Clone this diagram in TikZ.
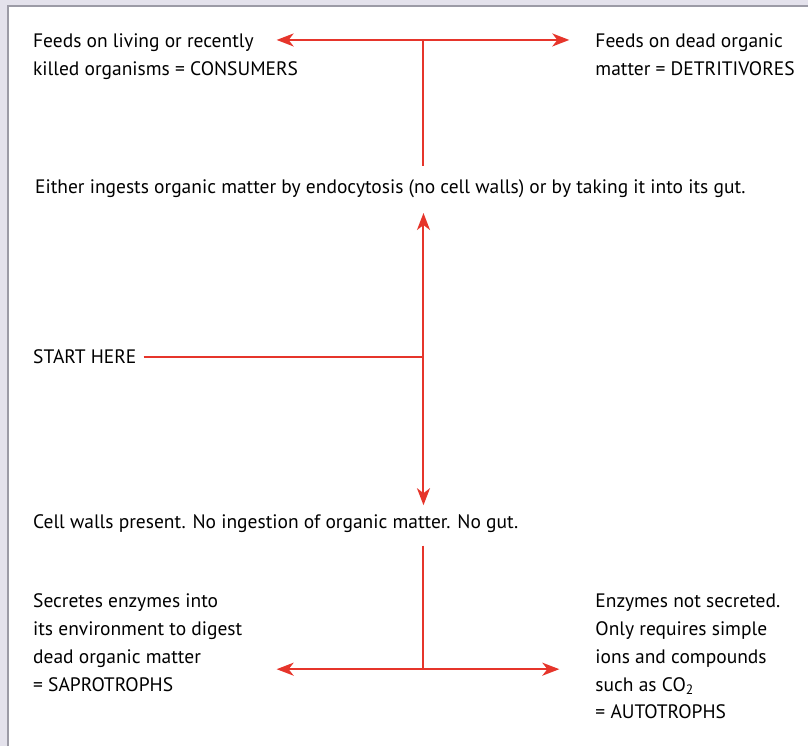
\documentclass[tikz,border=0pt]{standalone}
\usepackage{fontspec}
\setmainfont{PT Sans}
\usetikzlibrary{arrows.meta,positioning}
\definecolor{arrowred}{HTML}{E6352B}
\definecolor{framegray}{HTML}{9C9BA6}
\definecolor{bggray}{HTML}{E4E2EC}

\begin{document}
\begin{tikzpicture}[
    x=1pt, y=-1pt,
    txt/.style={inner sep=0pt, anchor=north west, align=left, font=\fontsize{19.5}{28}\selectfont},
    lin/.style={draw=arrowred, line width=2pt},
    arr/.style={lin, -{Stealth[length=17pt, width=13pt, inset=5pt]}}
]
% frame
\fill[bggray] (0,0) rectangle (809,747);
\fill[white] (8,6) rectangle (809,747);
\draw[framegray, line width=2pt] (8,747) -- (8,6) -- (809,6);
\useasboundingbox (0,0) rectangle (809,747);

% texts
\node[txt] (consumers) at (33,34) {Feeds on living or recently\\killed organisms = CONSUMERS};
\node[txt] (detritivores) at (596,34) {Feeds on dead organic\\matter = DETRITIVORES};
\node[txt, anchor=west] (ingest) at (35,189) {Either ingests organic matter by endocytosis (no cell walls) or by taking it into its gut.};
\node[txt, anchor=west] (start) at (33,357) {START HERE};
\node[txt, anchor=west] (walls) at (33,524) {Cell walls present. No ingestion of organic matter. No gut.};
\node[txt] (saprotrophs) at (33,594) {Secretes enzymes into\\its environment to digest\\dead organic matter\\= SAPROTROPHS};
\node[txt] (autotrophs) at (596,594) {Enzymes not secreted.\\Only requires simple\\ions and compounds\\such as CO\textsubscript{2}\\= AUTOTROPHS};

% junctions
\coordinate (jtop) at (424,40);
\coordinate (jmid) at (424,357);
\coordinate (jbot) at (424,670);
\coordinate (tl) at (277,40);
\coordinate (tr) at (570,40);
\coordinate (bl) at (277,670);
\coordinate (br) at (560,670);

% connectors
\draw[lin] ([yshift=14pt]ingest.north -| jtop) -- (jtop);
\draw[arr] (jtop) -- (tl);
\draw[arr] (jtop) -- (tr);
\draw[lin, shorten <=7pt] (start.east) -- (jmid);
\draw[arr] (jmid) -- ([yshift=-15pt]ingest.south -| jmid);
\draw[arr] (jmid) -- ([yshift=9pt]walls.north -| jmid);
\draw[lin] ([yshift=-13pt]walls.south -| jbot) -- (jbot);
\draw[arr] (jbot) -- (bl);
\draw[arr] (jbot) -- (br);
\end{tikzpicture}
\end{document}
